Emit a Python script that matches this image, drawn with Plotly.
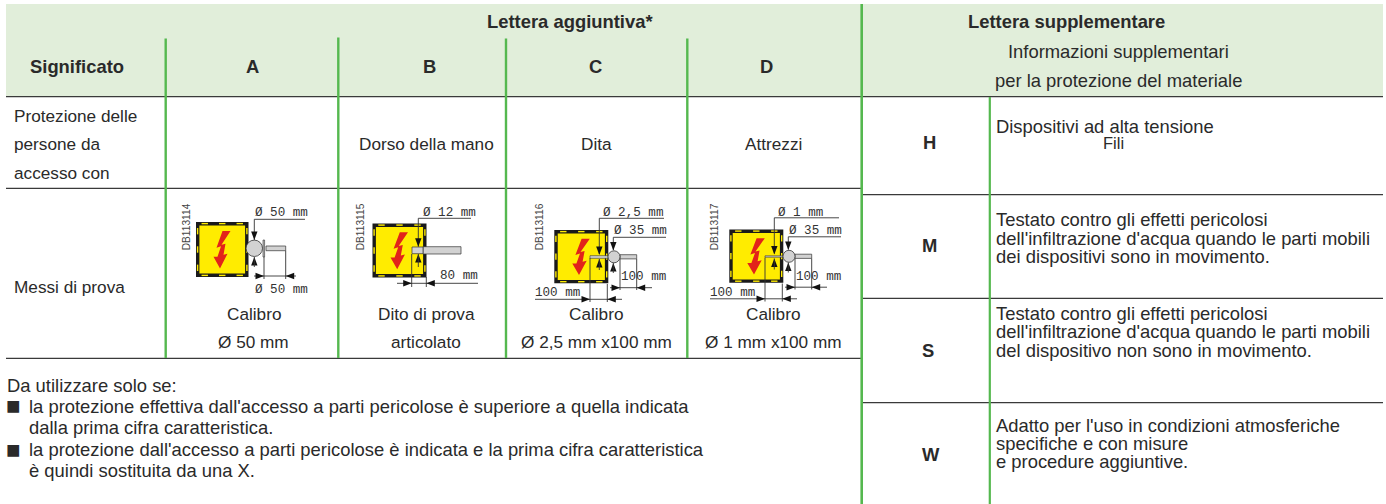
import plotly.graph_objects as go

# ---- content ----
COLUMN_LETTERS = ["A", "B", "C", "D"]
GROUP_HEADERS = ["Lettera aggiuntiva*", "Lettera supplementare"]
FIRST_COLUMN_HEADER = "Significato"
INFO_HEADER = ["Informazioni supplementari", "per la protezione del materiale"]
ROW1_LABEL = ["Protezione delle", "persone da", "accesso con"]
ROW1_CELLS = ["", "Dorso della mano", "Dita", "Attrezzi"]
ROW2_LABEL = "Messi di prova"
ROW2_LINE1 = ["Calibro", "Dito di prova", "Calibro", "Calibro"]
ROW2_LINE2 = ["Ø 50 mm", "articolato", "Ø 2,5 mm x100 mm", "Ø 1 mm x100 mm"]
DRAWING_CODES = ["DB113114", "DB113115", "DB113116", "DB113117"]
NOTES_INTRO = "Da utilizzare solo se:"
NOTE_1 = ["la protezione effettiva dall'accesso a parti pericolose è superiore a quella indicata",
          "dalla prima cifra caratteristica."]
NOTE_2 = ["la protezione dall'accesso a parti pericolose è indicata e la prima cifra caratteristica",
          "è quindi sostituita da una X."]
SUPP_LETTERS = ["H", "M", "S", "W"]
SUPP_H = ["Dispositivi ad alta tensione"]
SUPP_H_CENTERED = "Fili"
SUPP_M = ["Testato contro gli effetti pericolosi",
          "dell'infiltrazione d'acqua quando le parti mobili",
          "dei dispositivi sono in movimento."]
SUPP_S = ["Testato contro gli effetti pericolosi",
          "dell'infiltrazione d'acqua quando le parti mobili",
          "del dispositivo non sono in movimento."]
SUPP_W = ["Adatto per l'uso in condizioni atmosferiche",
          "specifiche e con misure",
          "e procedure aggiuntive."]

# ---- style ----
W, H = 1386, 504
FONT = "Liberation Sans"
MONO = "Liberation Mono"
TXT = "#2a2a2a"
GREEN = "#55b84f"
HEAD = "#e1eeda"
RULE = "#3a3a3a"
YEL = "#ffec00"
RED = "#e2231a"
CELL = 17.2
BIG = 18.4

shapes, annots = [], []

def text(x, y, s, size=CELL, bold=False, anchor="center", color=TXT, font=FONT, angle=0):
    annots.append(dict(x=x, y=y, xref="x", yref="y", text=f"<b>{s}</b>" if bold else s,
                       showarrow=False, xanchor=anchor, yanchor="middle", textangle=angle,
                       font=dict(family=font, size=size, color=color), borderpad=0, borderwidth=0))

def rect(x0, y0, x1, y1, fill, line=None, lw=0):
    shapes.append(dict(type="rect", x0=x0, y0=y0, x1=x1, y1=y1, xref="x", yref="y", fillcolor=fill,
                       line=dict(color=line or fill, width=lw), layer="above"))

def seg(x0, y0, x1, y1, color="#333", lw=0.9):
    shapes.append(dict(type="line", x0=x0, y0=y0, x1=x1, y1=y1, xref="x", yref="y",
                       line=dict(color=color, width=lw), layer="above"))

def poly(pts, fill, line=None, lw=0):
    p = "M" + " L".join(f"{a:.1f},{b:.1f}" for a, b in pts) + " Z"
    shapes.append(dict(type="path", path=p, xref="x", yref="y", fillcolor=fill,
                       line=dict(color=line or fill, width=lw), layer="above"))

def circle(cx, cy, r, fill, line="#333", lw=0.8):
    shapes.append(dict(type="circle", x0=cx - r, y0=cy - r, x1=cx + r, y1=cy + r, xref="x", yref="y",
                       fillcolor=fill, line=dict(color=line, width=lw), layer="above"))

def arrow(x, y, dir_, length=8.5, half=3.2):
    dx, dy = {"r": (1, 0), "l": (-1, 0), "d": (0, 1), "u": (0, -1)}[dir_]
    poly([(x, y), (x - dx * length - dy * half, y - dy * length - dx * half),
          (x - dx * length + dy * half, y - dy * length + dx * half)], "#111")

def cabinet(x0, y0, x1, y1):
    rect(x0, y0, x1, y1, "#1a1a1a")
    rect(x0 + 3.4, y0 + 3.4, x1 - 3.4, y1 - 3.4, YEL)
    n = 3
    for i in range(n):
        cx = x0 + (x1 - x0) * (i + 0.5) / n
        cy = y0 + (y1 - y0) * (i + 0.5) / n
        for yy in (y0 + 0.9, y1 - 2.3):
            rect(cx - 3.2, yy, cx + 3.2, yy + 1.4, YEL)
        for xx in (x0 + 0.9, x1 - 2.3):
            rect(xx, cy - 3.2, xx + 1.4, cy + 3.2, YEL)
    w = x1 - x0
    h = y1 - y0
    pts = [(.50, .16), (.38, .50), (.47, .47), (.40, .68), (.32, .68), (.45, .92),
           (.60, .62), (.52, .64), (.56, .42), (.48, .44), (.66, .16)]
    poly([(x0 + a * w * 0.95 + w * 0.03, y0 + b * h * .9 + 1) for a, b in pts], RED)

GRAY = "#d2d2d2"

# ---- table frame ----
rect(6, 4, 1383, 96, HEAD)
for yy, a, b in [(96.6, 6, 1383), (188.4, 6, 862), (358.4, 6, 862),
                 (194.7, 862, 1383), (298.3, 862, 1383), (402.7, 862, 1383)]:
    seg(a, yy, b, yy, RULE, 1.3)
for xx, a, b, lw in [(165.7, 38.5, 358, 2.4), (338.3, 37.5, 358, 2.4), (506, 38.5, 358, 2.4), (687.3, 38.5, 358, 2.4),
                     (861.7, 4, 504, 2.6), (989.8, 97, 504, 2.2)]:
    seg(xx, a, xx, b, GREEN, lw)

# ---- headers ----
text(570, 21, GROUP_HEADERS[0], size=BIG, bold=True)
text(1066, 21, GROUP_HEADERS[1], size=BIG, bold=True)
text(1118, 51, INFO_HEADER[0], size=BIG)
text(1118, 80, INFO_HEADER[1], size=BIG)
text(76.7, 66.7, FIRST_COLUMN_HEADER, size=BIG, bold=True)
HEAD_CX = [252.3, 429.3, 595.7, 766]
COL_CX = [253.5, 426, 596, 773.3]
for cx, s in zip(HEAD_CX, COLUMN_LETTERS):
    text(cx, 66.7, s, size=BIG, bold=True)

# ---- row 1 ----
for yy, s in zip([116, 144.3, 172.7], ROW1_LABEL):
    text(14, yy, s, anchor="left")
for cx, s in zip(COL_CX, ROW1_CELLS):
    if s:
        text(cx, 144.3, s)

# ---- row 2 ----
text(14, 287, ROW2_LABEL, anchor="left")
for cx, a, b in zip(COL_CX, ROW2_LINE1, ROW2_LINE2):
    text(cx, 314, a)
    text(cx, 342, b)
for x, s in zip([186, 360, 539, 714], DRAWING_CODES):
    text(x, 227.3, s, size=10.2, angle=-90, color="#444")

def dim(x, y, s, anchor="center"):
    text(x, y, s, size=12.6, font=MONO, anchor=anchor, color="#333")

# icon A
cabinet(196, 222, 248.5, 277)
circle(254.3, 248.3, 8.2, GRAY)
rect(263, 240, 264.6, 257, "#bbb", "#333", 0.6)
rect(266, 246, 285.7, 250.7, GRAY, "#333", 0.7)
dim(281.7, 213.3, "Ø 50 mm")
seg(254.3, 219.3, 305, 219.3); seg(254.3, 219.3, 254.3, 240)
arrow(254.3, 240, "d"); arrow(254.3, 257, "u"); seg(254.3, 257, 254.3, 267)
seg(254, 276, 296, 276); seg(264, 257, 264, 279); seg(285.7, 250.7, 285.7, 279)
arrow(264, 276, "r"); arrow(285.7, 276, "l")
dim(281.7, 290, "Ø 50 mm")

# icon B
cabinet(372.5, 223.5, 426.5, 277.5)
rect(423, 246.7, 461, 254, GRAY, "#333", 0.7)
rect(412, 247, 423, 253.7, GRAY, "#333", 0.7)
dim(449.3, 213.3, "Ø 12 mm")
seg(418.3, 218.3, 471, 218.3); seg(418.3, 218.3, 418.3, 246.7)
arrow(418.3, 246.7, "d"); arrow(418.3, 254, "u"); seg(418.3, 254, 418.3, 267)
seg(397, 283.3, 478, 283.3); seg(411.7, 254, 411.7, 287); seg(426.3, 277, 426.3, 287)
arrow(411.7, 283.3, "r"); arrow(426.3, 283.3, "l")
dim(459, 276, "80 mm")

# icons C and D share one drawing, shifted sideways
def pin_icon(dx, dy, pin_h, top_label, top_x):
    cabinet(554.3 + dx, 230 + dy, 608.3 + dx, 283.3 + dy)
    rect(590 + dx, 257 - pin_h / 2 + dy, 608 + dx, 257 + pin_h / 2 + dy, GRAY, "#333", 0.6)
    rect(620 + dx, 254.7 + dy, 636.7 + dx, 258.9 + dy, GRAY, "#333", 0.7)
    circle(614 + dx, 256.8 + dy, 6, GRAY)
    dim(top_x + dx, 213.3 + dy, top_label)
    seg(599.3 + dx, 218.3 + dy, 664 + dx, 218.3 + dy); seg(599.3 + dx, 218.3 + dy, 599.3 + dx, 254 + dy)
    arrow(599.3 + dx, 255 + dy, "d"); arrow(599.3 + dx, 259 + dy, "u"); seg(599.3 + dx, 259 + dy, 599.3 + dx, 270 + dy)
    dim(640.7 + dx, 231.3 + dy, "Ø 35 mm")
    seg(613.3 + dx, 237.3 + dy, 666 + dx, 237.3 + dy); seg(613.3 + dx, 237.3 + dy, 613.3 + dx, 250 + dy)
    arrow(613.3 + dx, 250.5 + dy, "d"); arrow(613.3 + dx, 263 + dy, "u"); seg(613.3 + dx, 263 + dy, 613.3 + dx, 273 + dy)
    dim(643.3 + dx, 277.3 + dy, "100 mm")
    seg(610 + dx, 287.7 + dy, 652 + dx, 287.7 + dy)
    seg(620 + dx, 259 + dy, 620 + dx, 290 + dy); seg(636.7 + dx, 259 + dy, 636.7 + dx, 290 + dy)
    arrow(620 + dx, 287.7 + dy, "r"); arrow(636.7 + dx, 287.7 + dy, "l")
    dim(557.3 + dx, 293.3 + dy, "100 mm")
    seg(535 + dx, 299.3 + dy, 622 + dx, 299.3 + dy)
    seg(590 + dx, 258 + dy, 590 + dx, 302 + dy); seg(607.3 + dx, 284 + dy, 607.3 + dx, 302 + dy)
    arrow(590 + dx, 299.3 + dy, "r"); arrow(607.3 + dx, 299.3 + dy, "l")

pin_icon(0, 0, 2.6, "Ø 2,5 mm", 633.3)
pin_icon(175, -0.5, 1.4, "Ø 1 mm", 625)

# ---- notes ----
text(7, 385, NOTES_INTRO, size=BIG, anchor="left")
text(6, 405, "■", size=24, anchor="left")
text(29, 406, NOTE_1[0], size=BIG, anchor="left")
text(29, 427.7, NOTE_1[1], size=BIG, anchor="left")
text(6, 449, "■", size=24, anchor="left")
text(29, 449.3, NOTE_2[0], size=BIG, anchor="left")
text(29, 470.7, NOTE_2[1], size=BIG, anchor="left")

# ---- supplementary column ----
for yy, x, s in zip([142.7, 245, 350, 454], [929, 929, 928, 930.7], SUPP_LETTERS):
    text(x, yy, s, size=BIG, bold=True)
text(996, 126, SUPP_H[0], size=BIG, anchor="left")
text(1113, 143, SUPP_H_CENTERED, size=16.5)
for ys, lines in [((219.3, 238, 256.7), SUPP_M), ((313.3, 331.7, 350), SUPP_S), ((425, 443.3, 461.7), SUPP_W)]:
    for yy, s in zip(ys, lines):
        text(996, yy, s, size=BIG, anchor="left")

fig = go.Figure()
fig.update_layout(
    width=W, height=H, margin=dict(l=0, r=0, t=0, b=0), autosize=False,
    paper_bgcolor="white", plot_bgcolor="white", showlegend=False,
    xaxis=dict(range=[0, W], visible=False, fixedrange=True),
    yaxis=dict(range=[H, 0], visible=False, fixedrange=True),
    shapes=shapes, annotations=annots,
)
fig.write_html("out.html", config={"displayModeBar": False},
               post_script="document.body.style.margin='0';document.body.style.overflow='hidden';")
